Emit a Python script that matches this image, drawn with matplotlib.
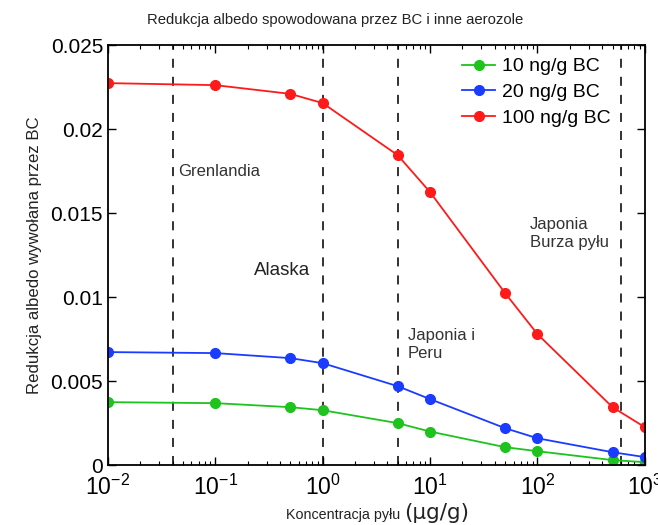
import matplotlib.pyplot as plt
import matplotlib.ticker as mticker
import numpy as np

plt.rcParams['font.family'] = ['Liberation Sans', 'DejaVu Sans']
plt.rcParams['mathtext.fontset'] = 'custom'
plt.rcParams['mathtext.rm'] = 'Liberation Sans'

# Dane
konc = [0.01, 0.1, 0.5, 1, 5, 10, 50, 100, 500, 1000]
bc10 = [0.00375, 0.00369, 0.00345, 0.00327, 0.0025, 0.0020, 0.00107, 0.00083, 0.0003, 0.00018]
bc20 = [0.00673, 0.00667, 0.00637, 0.00607, 0.0047, 0.00393, 0.0022, 0.0016, 0.00077, 0.00048]
bc100 = [0.02274, 0.02262, 0.0221, 0.02155, 0.01845, 0.01625, 0.01024, 0.0078, 0.00345, 0.00226]
linie = [0.04, 1, 5, 600]

fig = plt.figure(figsize=(6.58, 5.25), dpi=100)
ax = fig.add_axes([0.164, 0.114, 0.816, 0.8])

ax.plot(konc, bc10, '-o', color='#1ec31e', ms=7, lw=1.3, label='10 ng/g BC')
ax.plot(konc, bc20, '-o', color='#1a3cff', ms=7, lw=1.3, label='20 ng/g BC')
ax.plot(konc, bc100, '-o', color='#ff1a1a', ms=7, lw=1.3, label='100 ng/g BC')

for xl in linie:
    ax.axvline(xl, color='#222222', ls=(0, (5, 5)), lw=1.3, zorder=0)

ax.set_xscale('log')
ax.set_xlim(1e-2, 1e3)
ax.set_ylim(0, 0.025)
ax.set_yticks([0, 0.005, 0.01, 0.015, 0.02, 0.025])
ax.set_yticklabels(['0', '0.005', '0.01', '0.015', '0.02', '0.025'])
ax.xaxis.set_major_locator(mticker.LogLocator(base=10, numticks=10))
ax.xaxis.set_minor_locator(mticker.LogLocator(base=10, subs=np.arange(2, 10), numticks=20))
ax.xaxis.set_minor_formatter(mticker.NullFormatter())
ax.tick_params(which='both', direction='in', top=True, right=True, labelsize=15)
ax.tick_params(which='major', length=6, width=1)
ax.tick_params(which='minor', length=3, width=0.8)
ax.tick_params(axis='x', pad=7, labelsize=16.5)
for s in ax.spines.values():
    s.set_linewidth(1.3)

box = dict(facecolor='white', edgecolor='none', pad=2)
ax.text(0.045, 0.0172, 'Grenlandia', fontsize=12, color='#333333', bbox=box)
ax.text(0.23, 0.0113, 'Alaska', fontsize=13.5, color='#222222', bbox=box)
ax.text(6.2, 0.0064, 'Japonia i\nPeru', fontsize=12, color='#333333', bbox=box)
ax.text(85, 0.0130, 'Japonia\nBurza pyłu', fontsize=12, color='#333333', bbox=box)

ax.legend(loc='upper right', bbox_to_anchor=(0.96, 1.0), fontsize=14, frameon=False,
          handlelength=1.7, handletextpad=0.35, labelspacing=0.42, borderaxespad=0.25)

fig.text(0.51, 0.962, 'Redukcja albedo spowodowana przez BC i inne aerozole',
         ha='center', va='center', fontsize=10.7, color='#222222')
ax.set_ylabel('Redukcja albedo wywołana przez BC', fontsize=12.1, color='#222222', labelpad=6)
fig.text(0.614, 0.019, 'Koncentracja pyłu ', ha='right', va='center', fontsize=10.3, color='#222222')
fig.text(0.614, 0.022, '(μg/g)', ha='left', va='center', fontsize=15.5,
         family='DejaVu Sans', color='#222222')

fig.savefig('out.png', dpi=100)
